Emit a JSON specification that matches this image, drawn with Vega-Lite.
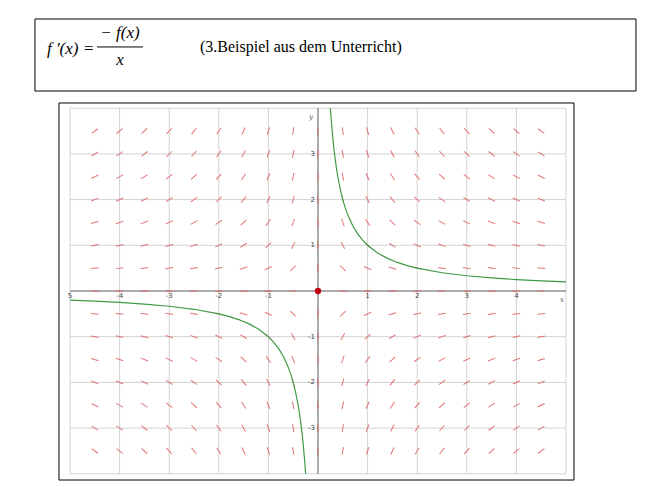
{
  "$schema": "https://vega.github.io/schema/vega-lite/v6.json",
  "width": 668,
  "height": 487,
  "autosize": {"type": "fit", "contains": "padding"},
  "padding": 0,
  "background": "white",
  "config": {"view": {"stroke": null}},
  "datasets": {
    "frames": [
      {"x": -5.706, "x2": 6.411, "y": 5.952, "y2": 4.376},
      {"x": -5.222, "x2": 5.161, "y": 4.114, "y2": -4.136}
    ],
    "grid": [
      {"x": -5, "y": -4, "x2": -5, "y2": 4},
      {"x": -4, "y": -4, "x2": -4, "y2": 4},
      {"x": -3, "y": -4, "x2": -3, "y2": 4},
      {"x": -2, "y": -4, "x2": -2, "y2": 4},
      {"x": -1, "y": -4, "x2": -1, "y2": 4},
      {"x": 1, "y": -4, "x2": 1, "y2": 4},
      {"x": 2, "y": -4, "x2": 2, "y2": 4},
      {"x": 3, "y": -4, "x2": 3, "y2": 4},
      {"x": 4, "y": -4, "x2": 4, "y2": 4},
      {"x": 5, "y": -4, "x2": 5, "y2": 4},
      {"x": -5, "y": -4, "x2": 5, "y2": -4},
      {"x": -5, "y": -3, "x2": 5, "y2": -3},
      {"x": -5, "y": -2, "x2": 5, "y2": -2},
      {"x": -5, "y": -1, "x2": 5, "y2": -1},
      {"x": -5, "y": 1, "x2": 5, "y2": 1},
      {"x": -5, "y": 2, "x2": 5, "y2": 2},
      {"x": -5, "y": 3, "x2": 5, "y2": 3},
      {"x": -5, "y": 4, "x2": 5, "y2": 4}
    ],
    "axes": [
      {"x": -5, "y": 0, "x2": 5, "y2": 0},
      {"x": 0, "y": -4, "x2": 0, "y2": 4}
    ],
    "field": [
      {"x":-4.5,"y":3.5,"a":-36},{"x":-4,"y":3.5,"a":-39},{"x":-3.5,"y":3.5,"a":-43},{"x":-3,"y":3.5,"a":-47},{"x":-2.5,"y":3.5,"a":-52},{"x":-2,"y":3.5,"a":-58},{"x":-1.5,"y":3.5,"a":-65},{"x":-1,"y":3.5,"a":-73},{"x":-0.5,"y":3.5,"a":-81},{"x":0,"y":3.5,"a":90},{"x":0.5,"y":3.5,"a":81},{"x":1,"y":3.5,"a":73},{"x":1.5,"y":3.5,"a":65},{"x":2,"y":3.5,"a":58},{"x":2.5,"y":3.5,"a":52},{"x":3,"y":3.5,"a":47},{"x":3.5,"y":3.5,"a":43},{"x":4,"y":3.5,"a":39},{"x":4.5,"y":3.5,"a":36},
      {"x":-4.5,"y":3,"a":-32},{"x":-4,"y":3,"a":-35},{"x":-3.5,"y":3,"a":-38},{"x":-3,"y":3,"a":-43},{"x":-2.5,"y":3,"a":-48},{"x":-2,"y":3,"a":-54},{"x":-1.5,"y":3,"a":-62},{"x":-1,"y":3,"a":-70},{"x":-0.5,"y":3,"a":-80},{"x":0,"y":3,"a":90},{"x":0.5,"y":3,"a":80},{"x":1,"y":3,"a":70},{"x":1.5,"y":3,"a":62},{"x":2,"y":3,"a":54},{"x":2.5,"y":3,"a":48},{"x":3,"y":3,"a":43},{"x":3.5,"y":3,"a":38},{"x":4,"y":3,"a":35},{"x":4.5,"y":3,"a":32},
      {"x":-4.5,"y":2.5,"a":-27},{"x":-4,"y":2.5,"a":-30},{"x":-3.5,"y":2.5,"a":-33},{"x":-3,"y":2.5,"a":-38},{"x":-2.5,"y":2.5,"a":-43},{"x":-2,"y":2.5,"a":-49},{"x":-1.5,"y":2.5,"a":-57},{"x":-1,"y":2.5,"a":-67},{"x":-0.5,"y":2.5,"a":-78},{"x":0,"y":2.5,"a":90},{"x":0.5,"y":2.5,"a":78},{"x":1,"y":2.5,"a":67},{"x":1.5,"y":2.5,"a":57},{"x":2,"y":2.5,"a":49},{"x":2.5,"y":2.5,"a":43},{"x":3,"y":2.5,"a":38},{"x":3.5,"y":2.5,"a":33},{"x":4,"y":2.5,"a":30},{"x":4.5,"y":2.5,"a":27},
      {"x":-4.5,"y":2,"a":-22},{"x":-4,"y":2,"a":-25},{"x":-3.5,"y":2,"a":-28},{"x":-3,"y":2,"a":-32},{"x":-2.5,"y":2,"a":-36},{"x":-2,"y":2,"a":-43},{"x":-1.5,"y":2,"a":-51},{"x":-1,"y":2,"a":-62},{"x":-0.5,"y":2,"a":-75},{"x":0,"y":2,"a":90},{"x":0.5,"y":2,"a":75},{"x":1,"y":2,"a":62},{"x":1.5,"y":2,"a":51},{"x":2,"y":2,"a":43},{"x":2.5,"y":2,"a":36},{"x":3,"y":2,"a":32},{"x":3.5,"y":2,"a":28},{"x":4,"y":2,"a":25},{"x":4.5,"y":2,"a":22},
      {"x":-4.5,"y":1.5,"a":-17},{"x":-4,"y":1.5,"a":-19},{"x":-3.5,"y":1.5,"a":-22},{"x":-3,"y":1.5,"a":-25},{"x":-2.5,"y":1.5,"a":-29},{"x":-2,"y":1.5,"a":-35},{"x":-1.5,"y":1.5,"a":-43},{"x":-1,"y":1.5,"a":-54},{"x":-0.5,"y":1.5,"a":-70},{"x":0,"y":1.5,"a":90},{"x":0.5,"y":1.5,"a":70},{"x":1,"y":1.5,"a":54},{"x":1.5,"y":1.5,"a":43},{"x":2,"y":1.5,"a":35},{"x":2.5,"y":1.5,"a":29},{"x":3,"y":1.5,"a":25},{"x":3.5,"y":1.5,"a":22},{"x":4,"y":1.5,"a":19},{"x":4.5,"y":1.5,"a":17},
      {"x":-4.5,"y":1,"a":-12},{"x":-4,"y":1,"a":-13},{"x":-3.5,"y":1,"a":-15},{"x":-3,"y":1,"a":-17},{"x":-2.5,"y":1,"a":-20},{"x":-2,"y":1,"a":-25},{"x":-1.5,"y":1,"a":-32},{"x":-1,"y":1,"a":-43},{"x":-0.5,"y":1,"a":-62},{"x":0,"y":1,"a":90},{"x":0.5,"y":1,"a":62},{"x":1,"y":1,"a":43},{"x":1.5,"y":1,"a":32},{"x":2,"y":1,"a":25},{"x":2.5,"y":1,"a":20},{"x":3,"y":1,"a":17},{"x":3.5,"y":1,"a":15},{"x":4,"y":1,"a":13},{"x":4.5,"y":1,"a":12},
      {"x":-4.5,"y":0.5,"a":-6},{"x":-4,"y":0.5,"a":-7},{"x":-3.5,"y":0.5,"a":-8},{"x":-3,"y":0.5,"a":-9},{"x":-2.5,"y":0.5,"a":-10},{"x":-2,"y":0.5,"a":-13},{"x":-1.5,"y":0.5,"a":-17},{"x":-1,"y":0.5,"a":-25},{"x":-0.5,"y":0.5,"a":-43},{"x":0,"y":0.5,"a":90},{"x":0.5,"y":0.5,"a":43},{"x":1,"y":0.5,"a":25},{"x":1.5,"y":0.5,"a":17},{"x":2,"y":0.5,"a":13},{"x":2.5,"y":0.5,"a":10},{"x":3,"y":0.5,"a":9},{"x":3.5,"y":0.5,"a":8},{"x":4,"y":0.5,"a":7},{"x":4.5,"y":0.5,"a":6},
      {"x":-4.5,"y":0,"a":0},{"x":-4,"y":0,"a":0},{"x":-3.5,"y":0,"a":0},{"x":-3,"y":0,"a":0},{"x":-2.5,"y":0,"a":0},{"x":-2,"y":0,"a":0},{"x":-1.5,"y":0,"a":0},{"x":-1,"y":0,"a":0},{"x":-0.5,"y":0,"a":0},{"x":0.5,"y":0,"a":0},{"x":1,"y":0,"a":0},{"x":1.5,"y":0,"a":0},{"x":2,"y":0,"a":0},{"x":2.5,"y":0,"a":0},{"x":3,"y":0,"a":0},{"x":3.5,"y":0,"a":0},{"x":4,"y":0,"a":0},{"x":4.5,"y":0,"a":0},
      {"x":-4.5,"y":-0.5,"a":6},{"x":-4,"y":-0.5,"a":7},{"x":-3.5,"y":-0.5,"a":8},{"x":-3,"y":-0.5,"a":9},{"x":-2.5,"y":-0.5,"a":10},{"x":-2,"y":-0.5,"a":13},{"x":-1.5,"y":-0.5,"a":17},{"x":-1,"y":-0.5,"a":25},{"x":-0.5,"y":-0.5,"a":43},{"x":0,"y":-0.5,"a":90},{"x":0.5,"y":-0.5,"a":-43},{"x":1,"y":-0.5,"a":-25},{"x":1.5,"y":-0.5,"a":-17},{"x":2,"y":-0.5,"a":-13},{"x":2.5,"y":-0.5,"a":-10},{"x":3,"y":-0.5,"a":-9},{"x":3.5,"y":-0.5,"a":-8},{"x":4,"y":-0.5,"a":-7},{"x":4.5,"y":-0.5,"a":-6},
      {"x":-4.5,"y":-1,"a":12},{"x":-4,"y":-1,"a":13},{"x":-3.5,"y":-1,"a":15},{"x":-3,"y":-1,"a":17},{"x":-2.5,"y":-1,"a":20},{"x":-2,"y":-1,"a":25},{"x":-1.5,"y":-1,"a":32},{"x":-1,"y":-1,"a":43},{"x":-0.5,"y":-1,"a":62},{"x":0,"y":-1,"a":90},{"x":0.5,"y":-1,"a":-62},{"x":1,"y":-1,"a":-43},{"x":1.5,"y":-1,"a":-32},{"x":2,"y":-1,"a":-25},{"x":2.5,"y":-1,"a":-20},{"x":3,"y":-1,"a":-17},{"x":3.5,"y":-1,"a":-15},{"x":4,"y":-1,"a":-13},{"x":4.5,"y":-1,"a":-12},
      {"x":-4.5,"y":-1.5,"a":17},{"x":-4,"y":-1.5,"a":19},{"x":-3.5,"y":-1.5,"a":22},{"x":-3,"y":-1.5,"a":25},{"x":-2.5,"y":-1.5,"a":29},{"x":-2,"y":-1.5,"a":35},{"x":-1.5,"y":-1.5,"a":43},{"x":-1,"y":-1.5,"a":54},{"x":-0.5,"y":-1.5,"a":70},{"x":0,"y":-1.5,"a":90},{"x":0.5,"y":-1.5,"a":-70},{"x":1,"y":-1.5,"a":-54},{"x":1.5,"y":-1.5,"a":-43},{"x":2,"y":-1.5,"a":-35},{"x":2.5,"y":-1.5,"a":-29},{"x":3,"y":-1.5,"a":-25},{"x":3.5,"y":-1.5,"a":-22},{"x":4,"y":-1.5,"a":-19},{"x":4.5,"y":-1.5,"a":-17},
      {"x":-4.5,"y":-2,"a":22},{"x":-4,"y":-2,"a":25},{"x":-3.5,"y":-2,"a":28},{"x":-3,"y":-2,"a":32},{"x":-2.5,"y":-2,"a":36},{"x":-2,"y":-2,"a":43},{"x":-1.5,"y":-2,"a":51},{"x":-1,"y":-2,"a":62},{"x":-0.5,"y":-2,"a":75},{"x":0,"y":-2,"a":90},{"x":0.5,"y":-2,"a":-75},{"x":1,"y":-2,"a":-62},{"x":1.5,"y":-2,"a":-51},{"x":2,"y":-2,"a":-43},{"x":2.5,"y":-2,"a":-36},{"x":3,"y":-2,"a":-32},{"x":3.5,"y":-2,"a":-28},{"x":4,"y":-2,"a":-25},{"x":4.5,"y":-2,"a":-22},
      {"x":-4.5,"y":-2.5,"a":27},{"x":-4,"y":-2.5,"a":30},{"x":-3.5,"y":-2.5,"a":33},{"x":-3,"y":-2.5,"a":38},{"x":-2.5,"y":-2.5,"a":43},{"x":-2,"y":-2.5,"a":49},{"x":-1.5,"y":-2.5,"a":57},{"x":-1,"y":-2.5,"a":67},{"x":-0.5,"y":-2.5,"a":78},{"x":0,"y":-2.5,"a":90},{"x":0.5,"y":-2.5,"a":-78},{"x":1,"y":-2.5,"a":-67},{"x":1.5,"y":-2.5,"a":-57},{"x":2,"y":-2.5,"a":-49},{"x":2.5,"y":-2.5,"a":-43},{"x":3,"y":-2.5,"a":-38},{"x":3.5,"y":-2.5,"a":-33},{"x":4,"y":-2.5,"a":-30},{"x":4.5,"y":-2.5,"a":-27},
      {"x":-4.5,"y":-3,"a":32},{"x":-4,"y":-3,"a":35},{"x":-3.5,"y":-3,"a":38},{"x":-3,"y":-3,"a":43},{"x":-2.5,"y":-3,"a":48},{"x":-2,"y":-3,"a":54},{"x":-1.5,"y":-3,"a":62},{"x":-1,"y":-3,"a":70},{"x":-0.5,"y":-3,"a":80},{"x":0,"y":-3,"a":90},{"x":0.5,"y":-3,"a":-80},{"x":1,"y":-3,"a":-70},{"x":1.5,"y":-3,"a":-62},{"x":2,"y":-3,"a":-54},{"x":2.5,"y":-3,"a":-48},{"x":3,"y":-3,"a":-43},{"x":3.5,"y":-3,"a":-38},{"x":4,"y":-3,"a":-35},{"x":4.5,"y":-3,"a":-32},
      {"x":-4.5,"y":-3.5,"a":36},{"x":-4,"y":-3.5,"a":39},{"x":-3.5,"y":-3.5,"a":43},{"x":-3,"y":-3.5,"a":47},{"x":-2.5,"y":-3.5,"a":52},{"x":-2,"y":-3.5,"a":58},{"x":-1.5,"y":-3.5,"a":65},{"x":-1,"y":-3.5,"a":73},{"x":-0.5,"y":-3.5,"a":81},{"x":0,"y":-3.5,"a":90},{"x":0.5,"y":-3.5,"a":-81},{"x":1,"y":-3.5,"a":-73},{"x":1.5,"y":-3.5,"a":-65},{"x":2,"y":-3.5,"a":-58},{"x":2.5,"y":-3.5,"a":-52},{"x":3,"y":-3.5,"a":-47},{"x":3.5,"y":-3.5,"a":-43},{"x":4,"y":-3.5,"a":-39},{"x":4.5,"y":-3.5,"a":-36}
    ],
    "curve": [
      {"b":"r","x":0.25,"y":4},{"b":"r","x":0.27,"y":3.7037},{"b":"r","x":0.3,"y":3.3333},{"b":"r","x":0.33,"y":3.0303},{"b":"r","x":0.36,"y":2.7778},{"b":"r","x":0.4,"y":2.5},{"b":"r","x":0.45,"y":2.2222},{"b":"r","x":0.5,"y":2},{"b":"r","x":0.55,"y":1.8182},{"b":"r","x":0.6,"y":1.6667},{"b":"r","x":0.7,"y":1.4286},{"b":"r","x":0.8,"y":1.25},{"b":"r","x":0.9,"y":1.1111},{"b":"r","x":1,"y":1},{"b":"r","x":1.2,"y":0.8333},{"b":"r","x":1.4,"y":0.7143},{"b":"r","x":1.6,"y":0.625},{"b":"r","x":1.8,"y":0.5556},{"b":"r","x":2,"y":0.5},{"b":"r","x":2.5,"y":0.4},{"b":"r","x":3,"y":0.3333},{"b":"r","x":3.5,"y":0.2857},{"b":"r","x":4,"y":0.25},{"b":"r","x":4.5,"y":0.2222},{"b":"r","x":5,"y":0.2},
      {"b":"l","x":-0.25,"y":-4},{"b":"l","x":-0.27,"y":-3.7037},{"b":"l","x":-0.3,"y":-3.3333},{"b":"l","x":-0.33,"y":-3.0303},{"b":"l","x":-0.36,"y":-2.7778},{"b":"l","x":-0.4,"y":-2.5},{"b":"l","x":-0.45,"y":-2.2222},{"b":"l","x":-0.5,"y":-2},{"b":"l","x":-0.55,"y":-1.8182},{"b":"l","x":-0.6,"y":-1.6667},{"b":"l","x":-0.7,"y":-1.4286},{"b":"l","x":-0.8,"y":-1.25},{"b":"l","x":-0.9,"y":-1.1111},{"b":"l","x":-1,"y":-1},{"b":"l","x":-1.2,"y":-0.8333},{"b":"l","x":-1.4,"y":-0.7143},{"b":"l","x":-1.6,"y":-0.625},{"b":"l","x":-1.8,"y":-0.5556},{"b":"l","x":-2,"y":-0.5},{"b":"l","x":-2.5,"y":-0.4},{"b":"l","x":-3,"y":-0.3333},{"b":"l","x":-3.5,"y":-0.2857},{"b":"l","x":-4,"y":-0.25},{"b":"l","x":-4.5,"y":-0.2222},{"b":"l","x":-5,"y":-0.2}
    ],
    "origin": [{"x": 0, "y": 0}],
    "xlabels": [
      {"x": -5, "y": -0.109, "t": "5"},
      {"x": -4, "y": -0.109, "t": "-4"},
      {"x": -3, "y": -0.109, "t": "-3"},
      {"x": -2, "y": -0.109, "t": "-2"},
      {"x": -1, "y": -0.109, "t": "-1"},
      {"x": 1, "y": -0.109, "t": "1"},
      {"x": 2, "y": -0.109, "t": "2"},
      {"x": 3, "y": -0.109, "t": "3"},
      {"x": 4, "y": -0.109, "t": "4"}
    ],
    "ylabels": [
      {"x": -0.06, "y": 3, "t": "3"},
      {"x": -0.06, "y": 2, "t": "2"},
      {"x": -0.06, "y": 1, "t": "1"},
      {"x": -0.06, "y": -1, "t": "-1"},
      {"x": -0.06, "y": -2, "t": "-2"},
      {"x": -0.06, "y": -3, "t": "-3"}
    ],
    "axisnames": [
      {"x": -0.141, "y": 3.807, "t": "y"},
      {"x": 4.919, "y": -0.197, "t": "x"}
    ],
    "lhs": [{"x": -5.464, "y": 5.295, "t": "f '(x) ="}],
    "frac": [
      {"x": -3.992, "y": 5.64, "t": "− f(x)"},
      {"x": -3.992, "y": 5.06, "t": "x"}
    ],
    "bar": [{"x": -4.456, "x2": -3.528, "y": 5.34, "y2": 5.34}],
    "note": [{"x": -2.379, "y": 5.339, "t": "(3.Beispiel aus dem Unterricht)"}]
  },
  "encoding": {
    "x": {"field": "x", "type": "quantitative", "scale": {"domain": [-6.4113, 7.0565], "nice": false, "zero": false}, "axis": null},
    "y": {"field": "y", "type": "quantitative", "scale": {"domain": [-4.2888, 6.3676], "nice": false, "zero": false}, "axis": null}
  },
  "layer": [
    {
      "data": {"name": "frames"},
      "mark": {"type": "rect", "fill": "white", "stroke": "black", "strokeWidth": 1},
      "encoding": {"x2": {"field": "x2"}, "y2": {"field": "y2"}}
    },
    {
      "data": {"name": "grid"},
      "mark": {"type": "rule", "color": "#d2d2d2", "strokeWidth": 1},
      "encoding": {"x2": {"field": "x2"}, "y2": {"field": "y2"}}
    },
    {
      "data": {"name": "axes"},
      "mark": {"type": "rule", "color": "#5a5a5a", "strokeWidth": 1},
      "encoding": {"x2": {"field": "x2"}, "y2": {"field": "y2"}}
    },
    {
      "data": {"name": "field"},
      "mark": {"type": "point", "shape": "stroke", "filled": false, "size": 60, "color": "#e26464", "strokeWidth": 1, "opacity": 0.9},
      "encoding": {"angle": {"field": "a", "type": "quantitative", "scale": null}}
    },
    {
      "data": {"name": "curve"},
      "mark": {"type": "line", "color": "#3f9a45", "strokeWidth": 1.2},
      "encoding": {"detail": {"field": "b"}, "order": {"field": "x"}}
    },
    {
      "data": {"name": "origin"},
      "mark": {"type": "point", "filled": true, "size": 40, "color": "#c00010", "opacity": 1}
    },
    {
      "data": {"name": "xlabels"},
      "mark": {"type": "text", "font": "DejaVu Sans", "fontSize": 7, "color": "#444", "align": "center", "baseline": "middle"},
      "encoding": {"text": {"field": "t"}}
    },
    {
      "data": {"name": "ylabels"},
      "mark": {"type": "text", "font": "DejaVu Sans", "fontSize": 7, "color": "#444", "align": "right", "baseline": "middle"},
      "encoding": {"text": {"field": "t"}}
    },
    {
      "data": {"name": "axisnames"},
      "mark": {"type": "text", "font": "DejaVu Serif", "fontStyle": "italic", "fontSize": 7, "color": "#555", "align": "center", "baseline": "middle"},
      "encoding": {"text": {"field": "t"}}
    },
    {
      "data": {"name": "lhs"},
      "mark": {"type": "text", "font": "Liberation Serif", "fontStyle": "italic", "fontSize": 17, "color": "black", "align": "left", "baseline": "middle"},
      "encoding": {"text": {"field": "t"}}
    },
    {
      "data": {"name": "frac"},
      "mark": {"type": "text", "font": "Liberation Serif", "fontStyle": "italic", "fontSize": 17, "color": "black", "align": "center", "baseline": "middle"},
      "encoding": {"text": {"field": "t"}}
    },
    {
      "data": {"name": "bar"},
      "mark": {"type": "rule", "color": "black", "strokeWidth": 1},
      "encoding": {"x2": {"field": "x2"}, "y2": {"field": "y2"}}
    },
    {
      "data": {"name": "note"},
      "mark": {"type": "text", "font": "Liberation Serif", "fontSize": 16, "color": "black", "align": "left", "baseline": "middle"},
      "encoding": {"text": {"field": "t"}}
    }
  ]
}
